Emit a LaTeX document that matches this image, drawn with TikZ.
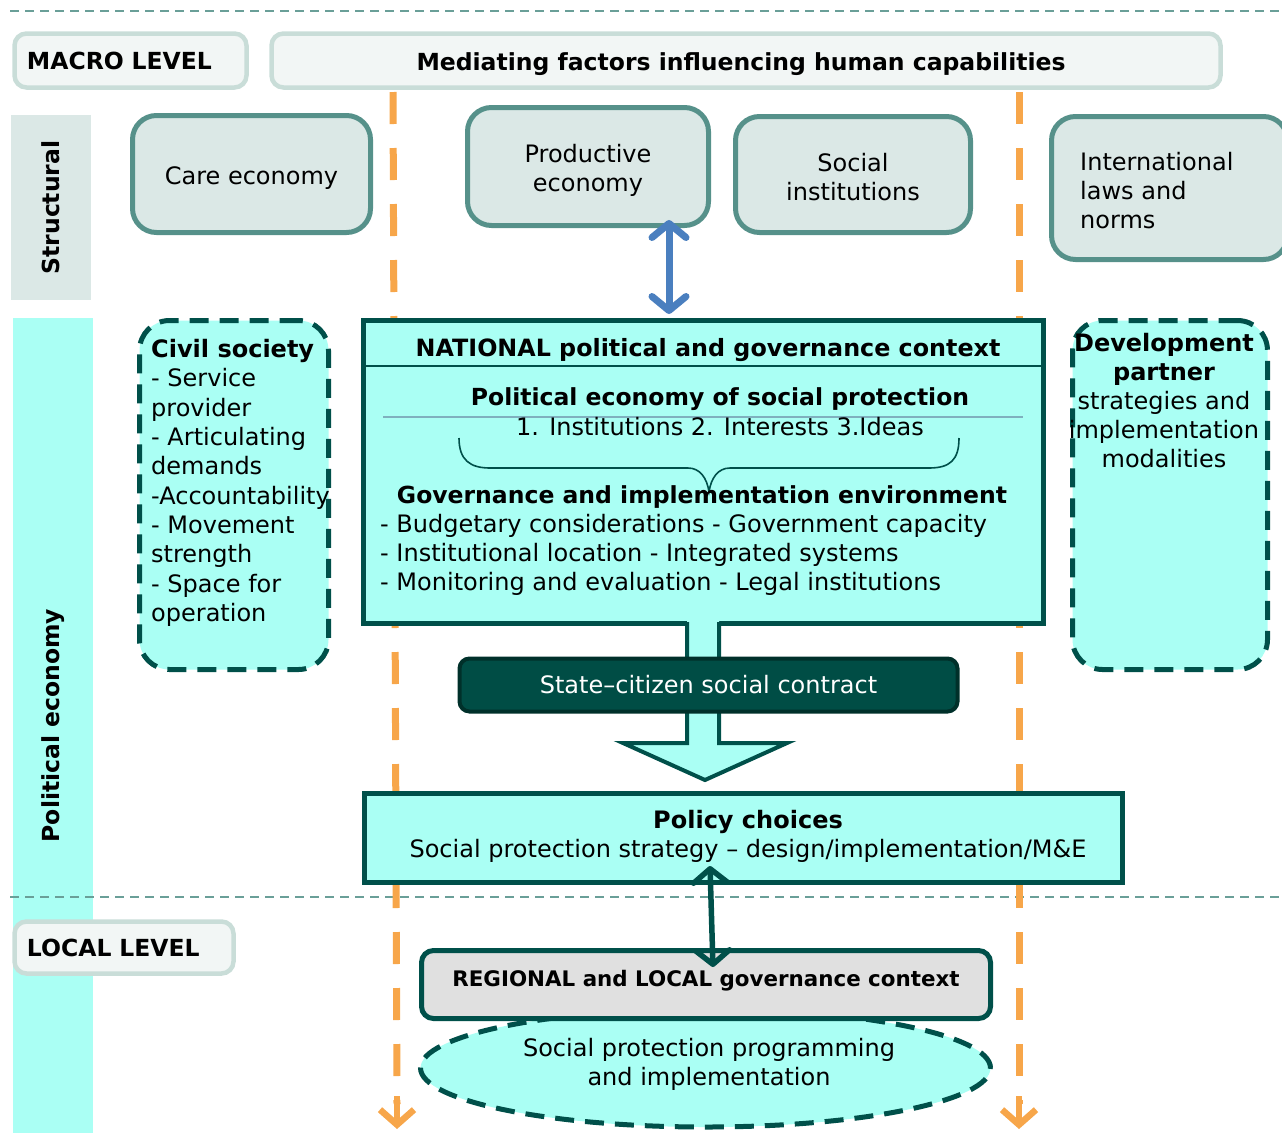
\documentclass[tikz,border=0pt]{standalone}
\usepackage{fontspec}
\setmainfont{DejaVu Sans}
\usetikzlibrary{arrows.meta,shapes.geometric,calc}

\definecolor{tealline}{HTML}{56918A}
\definecolor{structfill}{HTML}{DBE8E6}
\definecolor{cyanfill}{HTML}{AAFFF4}
\definecolor{darkteal}{HTML}{00504A}
\definecolor{contractfill}{HTML}{004D45}
\definecolor{contractline}{HTML}{00302A}
\definecolor{orangeline}{HTML}{F7A64A}
\definecolor{paleframe}{HTML}{C9DDD8}
\definecolor{palefill}{HTML}{F2F6F5}
\definecolor{bluearrow}{HTML}{4A7FBF}
\definecolor{greyfill}{HTML}{E0E0E0}
\definecolor{ruleblue}{HTML}{7FB0BE}
\definecolor{levelrule}{HTML}{6A9F98}

\newcommand\mainsz{\fontsize{24}{29}\selectfont}
\newcommand\boldsz{\bfseries\fontsize{23.5}{29}\selectfont}

\begin{document}
\begin{tikzpicture}[x=1pt,y=-1pt,
  levelbox/.style={draw=paleframe, fill=palefill, line width=4.5pt,
    rounded corners=12pt, inner sep=0pt, align=left, font=\boldsz},
  structbox/.style={draw=tealline, fill=structfill, line width=5pt,
    rounded corners=24pt, inner sep=0pt},
  dashbox/.style={draw=darkteal, fill=cyanfill, line width=5pt,
    dash pattern=on 19pt off 11pt, rounded corners=30pt, inner sep=0pt},
  solidbox/.style={draw=darkteal, fill=cyanfill, line width=5pt, inner sep=0pt},
  band/.style={rotate=90, inner sep=0pt, font=\boldsz},
  guideline/.style={draw=orangeline, line width=7pt, dash pattern=on 32pt off 24pt},
  guidetip/.style={draw=orangeline, line width=6pt,
    -{Straight Barb[length=15pt,width=34pt,line width=6.5pt]}},
  levelsep/.style={draw=levelrule, line width=1.6pt, dash pattern=on 9pt off 6pt},
  txt/.style={inner sep=0pt, font=\mainsz},
  btxt/.style={inner sep=0pt, font=\boldsz},
  twoway/.style={line width=#1,
    {Straight Barb[length=14pt,width=34pt,line width=#1,round]}-{Straight Barb[length=14pt,width=34pt,line width=#1,round]}},
]
\useasboundingbox (0,0) rectangle (1282,1133);

% side bands
\node[band, fill=structfill, minimum width=185, minimum height=80] (structband) at (51,207.5) {Structural};
\node[band, fill=cyanfill, minimum width=815, minimum height=80] (peband) at (53,725.5) {Political economy};

% level separators
\coordinate (topL) at (10,11);  \coordinate (topR) at (1282,11);
\coordinate (midL) at (10,897); \coordinate (midR) at (1282,897);
\draw[levelsep] (topL) -- (topR);
\draw[levelsep] (midL) -- (midR);

% orange guide lines with arrow heads
\coordinate (gl1) at (393,92);  \coordinate (gl2) at (397,1104); \coordinate (gl3) at (397,1129);
\coordinate (gr1) at (1019,92); \coordinate (gr2) at (1019,1104); \coordinate (gr3) at (1019,1129);
\draw[guideline] (gl1) -- (gl2);
\draw[guideline] (gr1) -- (gr2);
\draw[guidetip] ($(gl2)+(0,-8)$) -- (gl3);
\draw[guidetip] ($(gr2)+(0,-8)$) -- (gr3);

% header boxes
\node[levelbox, minimum width=232, minimum height=54, text width=207] (macro) at (130.5,60.5) {MACRO LEVEL};
\node[levelbox, minimum width=949, minimum height=54] (mediating) at (746,60.5) {};
\node[btxt] (medtext) at (741,64.5) {Mediating factors influencing human capabilities};
\node[levelbox, minimum width=219, minimum height=52, text width=194] (local) at (124,947.5) {LOCAL LEVEL};

% structural factors
\node[structbox, minimum width=238, minimum height=117] (care) at (251.5,174) {};
\node[txt] (caretext) at (251.5,178) {Care economy};
\node[structbox, minimum width=241, minimum height=118] (prod) at (588,166.5) {};
\node[txt, align=center] (prodtext) at (588,170.5) {Productive\\economy};
\node[structbox, minimum width=235, minimum height=116] (socinst) at (853,174.5) {};
\node[txt, align=center] (socinsttext) at (853,177) {Social\\institutions};
\node[structbox, minimum width=236, minimum height=143] (intl) at (1169.5,188) {};
\node[txt, anchor=west, align=left] (intltext) at (1080,190.5) {International\\laws and\\norms};

% actors on both sides
\node[dashbox, minimum width=189, minimum height=349] (civil) at (234,495) {};
\node[txt, anchor=north west, align=left, font=\fontsize{24}{29.33}\selectfont] (civiltext) at (151,339)
  {\textbf{Civil society}\\- Service\\provider\\- Articulating\\demands\\-Accountability\\- Movement\\strength\\- Space for\\operation};
\node[dashbox, minimum width=195, minimum height=349] (devpart) at (1170,495) {};
\node[txt, anchor=north, align=center] (devtext) at (1164,333)
  {\textbf{Development}\\\textbf{partner}\\strategies and\\implementation\\modalities};

% national context
\node[solidbox, minimum width=680, minimum height=303] (national) at (703.5,472) {};
\draw[darkteal, line width=2pt] (national.west |- 0,366) -- (national.east |- 0,366);
\node[btxt, font=\bfseries\fontsize{23.8}{29}\selectfont] (nattitle) at (708,350) {NATIONAL political and governance context};
\node[btxt] (pesp) at (720,399) {Political economy of social protection};
\coordinate (ruleL) at (383,417); \coordinate (ruleR) at (1023,417);
\draw[ruleblue, line width=1.5pt] (ruleL) -- (ruleR);
\node[txt] (pespitems) at (720,427) {1. Institutions 2. Interests 3.Ideas};
\draw[darkteal, line width=1.6pt] (459,438) .. controls (459,460) and (470,468) .. (490,468)
  -- (688,468) .. controls (700,468) and (707,478) .. (709,492)
  .. controls (711,478) and (718,468) .. (730,468)
  -- (929,468) .. controls (950,468) and (959,460) .. (959,438);
\node[btxt] (govtitle) at (702,497) {Governance and implementation environment};
\node[txt, anchor=west, align=left] (govitems) at (380,555)
  {- Budgetary considerations - Government capacity\\- Institutional location - Integrated systems\\- Monitoring and evaluation - Legal institutions};

% block arrow towards policy choices
\fill[cyanfill] (687,619) -- (687,743) -- (623,743) -- (705,780) -- (787,743) -- (719,743) -- (719,619) -- cycle;
\draw[darkteal, line width=4pt, line join=miter] (687,622) -- (687,743) -- (623,743) -- (705,780) -- (787,743) -- (719,743) -- (719,622);

% social contract
\node[draw=contractline, fill=contractfill, line width=4pt, rounded corners=10pt,
  minimum width=498, minimum height=53, inner sep=0pt, text=white, font=\mainsz] (contract) at (708.5,685) {State–citizen social contract};

% policy choices
\node[solidbox, minimum width=758, minimum height=89] (policy) at (743.5,838) {};
\node[txt, align=center] (policytext) at (748,836)
  {\textbf{Policy choices}\\Social protection strategy – design/implementation/M\&E};

% local programming and regional context
\node[ellipse, draw=darkteal, fill=cyanfill, line width=5pt, dash pattern=on 19pt off 11pt,
  minimum width=570, minimum height=118, inner sep=0pt] (programme) at (705.5,1068) {};
\node[txt, align=center] (progtext) at (709,1064.5) {Social protection programming\\and implementation};
\node[draw=darkteal, fill=greyfill, line width=5pt, rounded corners=12pt,
  minimum width=569, minimum height=68, inner sep=0pt, text height=16pt, text depth=11.8pt,
  font=\bfseries\fontsize{21.4}{26}\selectfont] (regional) at (706,984.5)
  {REGIONAL and LOCAL governance context};

% two-way links
\coordinate (bx) at (669,0);
\draw[bluearrow, twoway=7pt] ($(prod.south -| bx)+(0,-8)$) -- ($(national.north -| bx)+(0,-4)$);
\coordinate (dx1) at (710,0); \coordinate (dx2) at (713,0);
\draw[darkteal, twoway=5.5pt] ($(policy.south -| dx1)+(0,-19)$) -- ($(regional.north -| dx2)+(0,19)$);
\end{tikzpicture}
\end{document}
